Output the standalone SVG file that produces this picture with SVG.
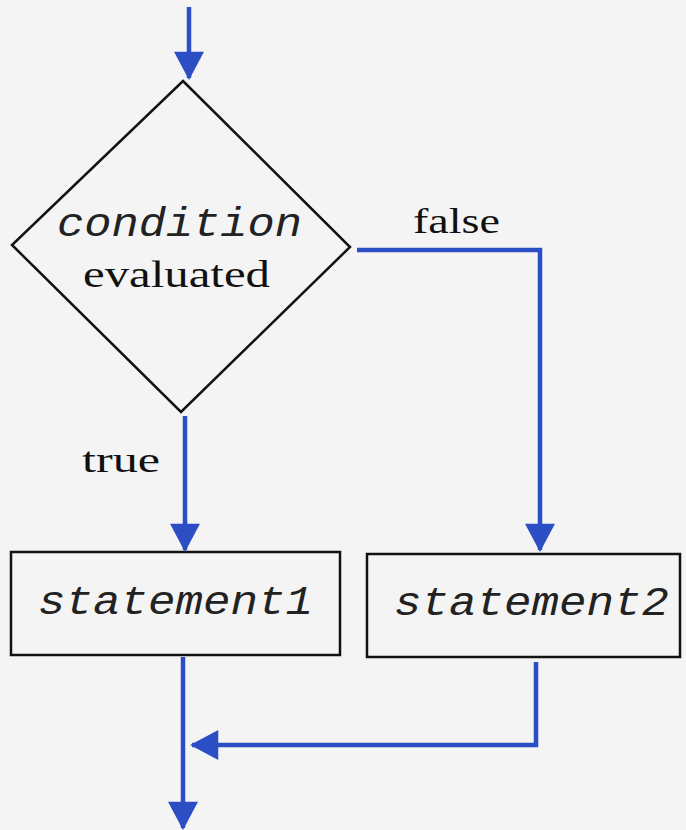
<svg xmlns="http://www.w3.org/2000/svg" width="686" height="830" viewBox="0 0 686 830">
<defs>
<marker id="ah" markerUnits="userSpaceOnUse" markerWidth="34" markerHeight="30" viewBox="0 0 30 32" refX="28" refY="16" orient="auto">
<path d="M0,0 L30,16 L0,32 Z" fill="#2b4ec4"/>
</marker>
<style>
.box{fill:#f4f4f4;stroke:#111;stroke-width:2.5}
.edge{fill:none;stroke:#2b4ec4;stroke-width:4.5}
.mono{font-family:"Liberation Mono","Courier New",monospace;font-style:italic;fill:#222}
.serif{font-family:"Liberation Serif","Times New Roman",serif;fill:#111}
</style>
</defs>
<rect width="686" height="830" fill="#f4f4f4"/>
<g id="decision">
<polygon class="box" points="183,81 350,247 181,412 12,245"/>
<text class="mono" x="57" y="236" font-size="40" textLength="245" lengthAdjust="spacingAndGlyphs">condition</text>
<text class="serif" x="83" y="287" font-size="38" textLength="187" lengthAdjust="spacingAndGlyphs">evaluated</text>
</g>
<g id="statement1">
<rect class="box" x="11" y="552" width="329" height="103"/>
<text class="mono" x="38" y="614" font-size="40" textLength="275" lengthAdjust="spacingAndGlyphs">statement1</text>
</g>
<g id="statement2">
<rect class="box" x="367" y="554" width="313" height="103"/>
<text class="mono" x="394" y="615" font-size="40" textLength="275" lengthAdjust="spacingAndGlyphs">statement2</text>
</g>
<g id="connectors">
<line class="edge" x1="189" y1="7" x2="189" y2="78" marker-end="url(#ah)"/>
<line class="edge" x1="185" y1="416" x2="185" y2="550" marker-end="url(#ah)"/>
<polyline class="edge" points="357,250 540,250 540,550" marker-end="url(#ah)"/>
<line class="edge" x1="183" y1="657" x2="183" y2="828" marker-end="url(#ah)"/>
<polyline class="edge" points="536,662 536,745 192,745" marker-end="url(#ah)"/>
<text class="serif" x="82" y="472" font-size="36" textLength="78" lengthAdjust="spacingAndGlyphs">true</text>
<text class="serif" x="413" y="233" font-size="36" textLength="87" lengthAdjust="spacingAndGlyphs">false</text>
</g>
</svg>
